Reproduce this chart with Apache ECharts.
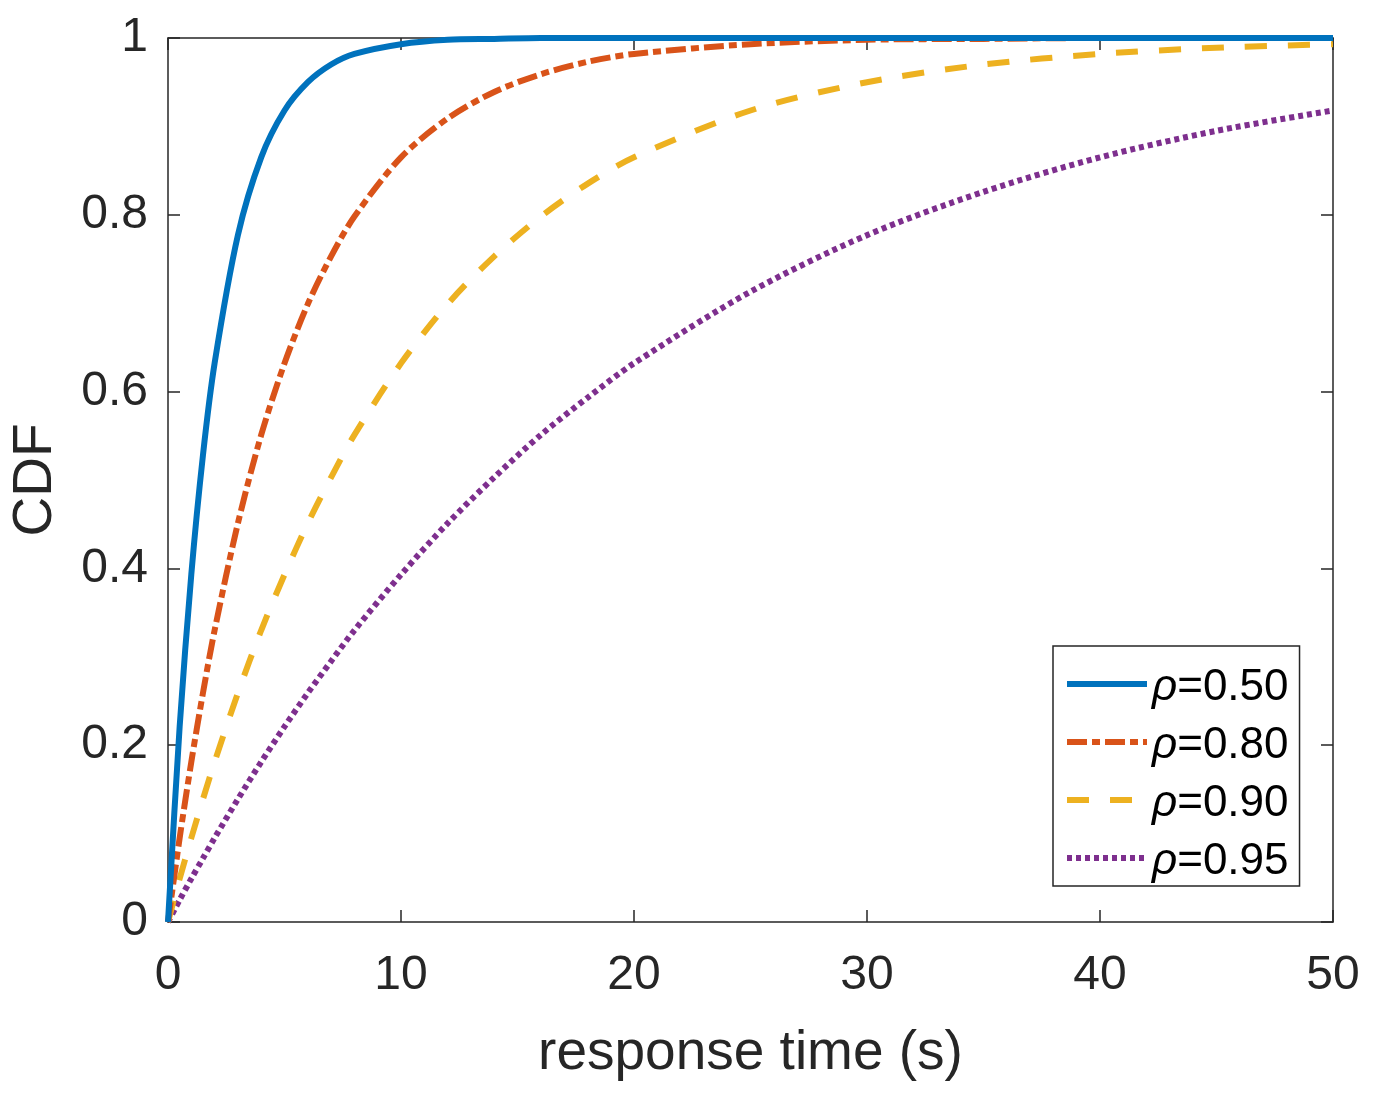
<!DOCTYPE html>
<html>
<head>
<meta charset="utf-8">
<script src="https://cdn.jsdelivr.net/npm/echarts@6/dist/echarts.min.js"></script>
<style>html,body{margin:0;padding:0;background:#fff}#c{width:1374px;height:1100px}</style>
</head>
<body>
<div id="c"></div>
<script>
const times = [0, 0.5, 1, 1.5, 2, 3, 4, 5, 6, 7, 8, 10, 12, 14, 16, 18, 20, 25, 30, 35, 40, 45, 50];
const seriesNames = ['0.50', '0.80', '0.90', '0.95'];
const rho050 = [0, 0.221, 0.393, 0.528, 0.632, 0.777, 0.865, 0.918, 0.950, 0.970, 0.982, 0.993, 0.998, 0.999, 1.0, 1.0, 1.0, 1.0, 1.0, 1.0, 1.0, 1.0, 1.0];
const rho080 = [0, 0.095, 0.181, 0.259, 0.330, 0.451, 0.551, 0.632, 0.699, 0.753, 0.798, 0.865, 0.909, 0.939, 0.959, 0.973, 0.982, 0.993, 0.998, 0.999, 1.0, 1.0, 1.0];
const rho090 = [0, 0.049, 0.095, 0.139, 0.181, 0.259, 0.330, 0.393, 0.451, 0.503, 0.551, 0.632, 0.699, 0.753, 0.798, 0.835, 0.865, 0.918, 0.950, 0.970, 0.982, 0.989, 0.993];
const rho095 = [0, 0.025, 0.049, 0.072, 0.095, 0.139, 0.181, 0.221, 0.259, 0.295, 0.330, 0.393, 0.451, 0.503, 0.551, 0.593, 0.632, 0.713, 0.777, 0.826, 0.865, 0.895, 0.918];
const xTicks = [0, 10, 20, 30, 40, 50];
const yTicks = [0, 0.2, 0.4, 0.6, 0.8, 1];

const FONT = '"Liberation Sans", Arial, Helvetica, sans-serif';
const TXT = '#262626';
const colors = ['#0072BD', '#D95319', '#EDB120', '#7E2F8E'];
const dashes = ['solid', [20, 5, 8, 5], [22, 21], [5, 4]];
const allData = [rho050, rho080, rho090, rho095];
const LW = 6;

const chart = echarts.init(document.getElementById('c'), null, {renderer: 'canvas'});
const series = allData.map((arr, i) => ({
  name: seriesNames[i],
  type: 'line',
  xAxisIndex: 0, yAxisIndex: 0,
  data: times.map((t, j) => [t, arr[j]]),
  smooth: 0.3,
  showSymbol: false,
  symbol: 'none',
  z: 10 - i,
  lineStyle: {color: colors[i], width: LW, type: dashes[i], cap: 'butt'},
  itemStyle: {color: colors[i]}
}));

const axisCommon = {
  axisLine: {show: true, onZero: false, lineStyle: {color: TXT, width: 1.5}},
  axisTick: {show: true, inside: true, length: 12, lineStyle: {color: TXT, width: 1.5}},
  splitLine: {show: false}
};

chart.setOption({
  animation: false,
  backgroundColor: '#fff',
  grid: {left: 166, right: 41, top: 38, bottom: 178, containLabel: false},
  legend: {
    orient: 'vertical',
    left: 1053, top: 646,
    padding: [12, 11, 2, 11],
    itemGap: 6,
    itemWidth: 80, itemHeight: 44,
    borderColor: TXT, borderWidth: 1.5,
    backgroundColor: '#fff',
    data: seriesNames.map((n, i) => ({
      name: n,
      itemStyle: {opacity: 0},
      lineStyle: {color: colors[i], width: LW, type: dashes[i], opacity: 1}
    })),
    formatter: n => '{i|ρ}{n|=' + n + '}',
    textStyle: {
      rich: {
        i: {fontFamily: FONT, fontStyle: 'italic', fontSize: 44, lineHeight: 44, color: '#000', padding: [8, 0, 0, 0]},
        n: {fontFamily: FONT, fontSize: 44, lineHeight: 44, color: '#000', padding: [8, 0, 0, 0]}
      }
    }
  },
  xAxis: [
    Object.assign({
      type: 'value', position: 'bottom', min: 0, max: 50, interval: 10,
      name: 'response time (s)', nameLocation: 'middle', nameGap: 104,
      nameTextStyle: {fontFamily: FONT, fontSize: 55, color: TXT},
      axisLabel: {fontFamily: FONT, fontSize: 48, color: TXT, margin: 30}
    }, axisCommon),
    Object.assign({
      type: 'value', position: 'top', min: 0, max: 50, interval: 10,
      axisLabel: {show: false}
    }, axisCommon)
  ],
  yAxis: [
    Object.assign({
      type: 'value', position: 'left', min: 0, max: 1, interval: 0.2,
      name: 'CDF', nameLocation: 'middle', nameGap: 105, nameRotate: 90,
      nameTextStyle: {fontFamily: FONT, fontSize: 55, color: TXT},
      axisLabel: {fontFamily: FONT, fontSize: 48, color: TXT, margin: 20,
        formatter: v => String(parseFloat(v.toFixed(1)))}
    }, axisCommon),
    Object.assign({
      type: 'value', position: 'right', min: 0, max: 1, interval: 0.2,
      axisLabel: {show: false}
    }, axisCommon)
  ],
  series: series
});
</script>
</body>
</html>
